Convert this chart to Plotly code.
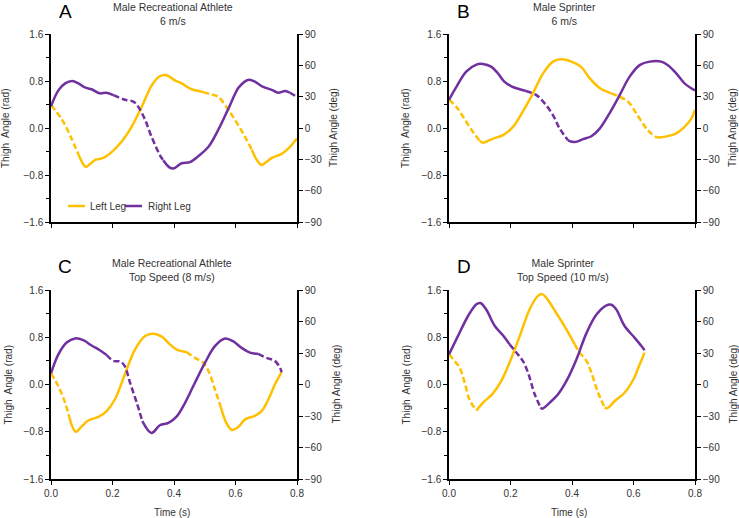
import plotly.graph_objects as go

# ---------------- data (time in s, thigh angle in rad) ----------------
A_left_t = [0.000, 0.035, 0.065, 0.090, 0.108, 0.115, 0.130, 0.145, 0.170, 0.197, 0.230, 0.262, 0.295, 0.327, 0.350, 0.365, 0.380, 0.403, 0.425, 0.457, 0.480, 0.495, 0.522, 0.544, 0.566, 0.598, 0.631, 0.653, 0.670, 0.685, 0.700, 0.718, 0.750, 0.777, 0.800]
A_left_v = [0.39, 0.15, -0.16, -0.46, -0.64, -0.66, -0.60, -0.54, -0.51, -0.41, -0.23, 0.02, 0.36, 0.72, 0.87, 0.90, 0.89, 0.81, 0.76, 0.66, 0.63, 0.61, 0.57, 0.53, 0.39, 0.14, -0.15, -0.37, -0.55, -0.63, -0.58, -0.51, -0.44, -0.32, -0.18]
A_left_dash = [(0.0, 0.090), (0.495, 0.653)]

A_right_t = [0.000, 0.024, 0.046, 0.069, 0.089, 0.110, 0.132, 0.159, 0.180, 0.203, 0.240, 0.268, 0.284, 0.306, 0.327, 0.354, 0.365, 0.385, 0.398, 0.425, 0.452, 0.479, 0.512, 0.544, 0.577, 0.609, 0.630, 0.644, 0.663, 0.690, 0.718, 0.739, 0.761, 0.777, 0.800]
A_right_v = [0.37, 0.64, 0.76, 0.80, 0.76, 0.69, 0.66, 0.59, 0.60, 0.56, 0.48, 0.45, 0.36, 0.14, -0.15, -0.46, -0.55, -0.67, -0.69, -0.60, -0.58, -0.48, -0.32, -0.03, 0.33, 0.68, 0.79, 0.82, 0.79, 0.70, 0.65, 0.60, 0.63, 0.60, 0.53]
A_right_dash = [(0.203, 0.365), (0.777, 0.800)]

B_left_t = [0.000, 0.024, 0.046, 0.073, 0.100, 0.110, 0.143, 0.176, 0.208, 0.240, 0.273, 0.306, 0.338, 0.365, 0.398, 0.430, 0.457, 0.490, 0.528, 0.555, 0.582, 0.609, 0.642, 0.669, 0.685, 0.718, 0.739, 0.766, 0.788, 0.800]
B_left_v = [0.48, 0.36, 0.19, -0.03, -0.22, -0.25, -0.18, -0.12, 0.02, 0.28, 0.59, 0.93, 1.13, 1.17, 1.13, 1.04, 0.85, 0.68, 0.59, 0.53, 0.45, 0.25, -0.01, -0.15, -0.16, -0.13, -0.09, 0.02, 0.16, 0.31]
B_left_dash = [(0.0, 0.100), (0.528, 0.669)]

B_right_t = [0.000, 0.024, 0.056, 0.089, 0.110, 0.138, 0.159, 0.180, 0.203, 0.230, 0.250, 0.284, 0.311, 0.338, 0.360, 0.387, 0.409, 0.436, 0.463, 0.490, 0.522, 0.555, 0.587, 0.620, 0.653, 0.690, 0.712, 0.739, 0.766, 0.800]
B_right_v = [0.48, 0.70, 0.96, 1.08, 1.09, 1.04, 0.93, 0.79, 0.71, 0.66, 0.63, 0.56, 0.42, 0.22, -0.01, -0.21, -0.24, -0.19, -0.14, -0.01, 0.25, 0.56, 0.87, 1.07, 1.13, 1.13, 1.07, 0.93, 0.76, 0.64]
B_right_dash = [(0.250, 0.387)]

C_left_t = [0.000, 0.024, 0.046, 0.060, 0.080, 0.100, 0.121, 0.154, 0.181, 0.208, 0.240, 0.273, 0.306, 0.333, 0.360, 0.387, 0.409, 0.441, 0.468, 0.495, 0.512, 0.533, 0.552, 0.570, 0.588, 0.609, 0.631, 0.663, 0.685, 0.707, 0.728, 0.750]
C_left_v = [0.19, -0.03, -0.31, -0.56, -0.80, -0.71, -0.61, -0.55, -0.45, -0.25, 0.17, 0.59, 0.82, 0.86, 0.81, 0.68, 0.59, 0.55, 0.45, 0.37, 0.23, -0.08, -0.38, -0.65, -0.77, -0.72, -0.59, -0.53, -0.45, -0.25, 0.00, 0.21]
C_left_dash = [(0.0, 0.060), (0.441, 0.552)]

C_right_t = [0.000, 0.024, 0.051, 0.078, 0.105, 0.132, 0.159, 0.181, 0.203, 0.225, 0.240, 0.257, 0.279, 0.297, 0.327, 0.354, 0.382, 0.409, 0.436, 0.468, 0.501, 0.533, 0.566, 0.593, 0.620, 0.647, 0.674, 0.701, 0.728, 0.745, 0.750]
C_right_v = [0.19, 0.51, 0.71, 0.78, 0.75, 0.66, 0.58, 0.50, 0.40, 0.39, 0.31, 0.03, -0.31, -0.62, -0.82, -0.69, -0.65, -0.54, -0.31, 0.03, 0.37, 0.65, 0.78, 0.73, 0.62, 0.54, 0.52, 0.45, 0.40, 0.28, 0.21]
C_right_dash = [(0.181, 0.297), (0.674, 0.750)]

D_left_t = [0.000, 0.018, 0.035, 0.051, 0.067, 0.089, 0.110, 0.143, 0.170, 0.197, 0.230, 0.262, 0.289, 0.303, 0.316, 0.349, 0.382, 0.409, 0.425, 0.447, 0.463, 0.485, 0.506, 0.515, 0.539, 0.571, 0.599, 0.620, 0.636]
D_left_v = [0.51, 0.40, 0.28, 0.03, -0.26, -0.44, -0.31, -0.15, 0.06, 0.37, 0.82, 1.27, 1.50, 1.53, 1.47, 1.21, 0.93, 0.68, 0.54, 0.40, 0.20, -0.14, -0.39, -0.40, -0.28, -0.14, 0.08, 0.34, 0.54]
D_left_dash = [(0.0, 0.089), (0.409, 0.506)]

D_right_t = [0.000, 0.029, 0.062, 0.089, 0.102, 0.121, 0.149, 0.176, 0.197, 0.224, 0.240, 0.257, 0.279, 0.298, 0.303, 0.327, 0.354, 0.382, 0.414, 0.447, 0.479, 0.512, 0.528, 0.544, 0.571, 0.604, 0.626, 0.636]
D_right_v = [0.51, 0.82, 1.16, 1.36, 1.38, 1.27, 0.99, 0.83, 0.68, 0.51, 0.40, 0.20, -0.17, -0.39, -0.41, -0.31, -0.17, 0.06, 0.42, 0.87, 1.18, 1.34, 1.35, 1.27, 0.99, 0.79, 0.65, 0.58]
D_right_dash = [(0.197, 0.298), (0.626, 0.636)]

panel_letters = ["A", "B", "C", "D"]
panel_titles = ["Male Recreational Athlete<br>6 m/s", "Male Sprinter<br>6 m/s",
                "Male Recreational Athlete<br>Top Speed (8 m/s)", "Male Sprinter<br>Top Speed (10 m/s)"]
series_names = ["Left Leg", "Right Leg"]
rad_ticks = [-1.6, -0.8, 0.0, 0.8, 1.6]
deg_ticks = [-90, -60, -30, 0, 30, 60, 90]
time_ticks = [0.0, 0.2, 0.4, 0.6, 0.8]

panels = [
    (A_left_t, A_left_v, A_left_dash, A_right_t, A_right_v, A_right_dash),
    (B_left_t, B_left_v, B_left_dash, B_right_t, B_right_v, B_right_dash),
    (C_left_t, C_left_v, C_left_dash, C_right_t, C_right_v, C_right_dash),
    (D_left_t, D_left_v, D_left_dash, D_right_t, D_right_v, D_right_dash),
]

# ---------------- styling ----------------
W, H = 739, 518
GOLD = "#FFC000"
PURPLE = "#7030A0"
TXT = "#333333"
FONT = "Liberation Sans, Arial, sans-serif"
LW = 2.5
DASH = "6px,3px"


def px(x):
    return x / W


def py(y):
    return 1 - y / H


# plot-area pixel boxes (left, right, top, bottom)
boxes = [(51, 297, 34, 222), (449, 695, 34, 222), (51, 297, 290, 479), (449, 695, 290, 479)]


def runs(t, v, dashed):
    def is_d(m):
        return any(a <= m <= b for a, b in dashed)
    out = []
    for i in range(len(t) - 1):
        d = is_d((t[i] + t[i + 1]) / 2)
        if out and out[-1][0] == d:
            out[-1][1].append(i + 1)
        else:
            out.append([d, [i, i + 1]])
    return [(d, [t[j] for j in idx], [v[j] for j in idx]) for d, idx in out]


fig = go.Figure()
layout = {}
for k, (lt, lv, ld, rt, rv, rd) in enumerate(panels):
    n = k + 1
    xa = "x" if n == 1 else f"x{n}"
    ya = "y" if n == 1 else f"y{n}"
    ya2 = f"y{n + 4}"
    for t, v, dsh, col in ((lt, lv, ld, GOLD), (rt, rv, rd, PURPLE)):
        for d, xs, ys in runs(t, v, dsh):
            fig.add_trace(go.Scatter(x=xs, y=ys, mode="lines", xaxis=xa, yaxis=ya,
                                     line=dict(color=col, width=LW, shape="spline",
                                               dash=DASH if d else "solid"),
                                     showlegend=False, hoverinfo="skip"))
    # dummy trace for secondary (deg) axis
    fig.add_trace(go.Scatter(x=[None], y=[None], xaxis=xa, yaxis=ya2, showlegend=False,
                             hoverinfo="skip"))
    l, r, top, bot = boxes[k]
    common = dict(showline=True, linecolor="black", linewidth=1.5, showgrid=False,
                  zeroline=False, ticks="outside", ticklen=4, tickcolor="black",
                  automargin=False, fixedrange=True,
                  tickfont=dict(size=10, color=TXT, family=FONT))
    layout[f"xaxis{n}"] = dict(domain=[px(l), px(r)], range=[0, 0.8], tickvals=time_ticks,
                               tickformat=".1f", anchor=ya, showticklabels=(n > 2), **common)
    layout[f"yaxis{n}"] = dict(domain=[py(bot), py(top)], range=[-1.6, 1.6], tickvals=rad_ticks,
                               tickformat=".1f", anchor=xa,
                               minor=dict(dtick=0.4, ticks="outside", ticklen=3, tickcolor="black"),
                               **common)
    layout[f"yaxis{n + 4}"] = dict(overlaying=ya, side="right", anchor=xa, range=[-90, 90],
                                   tickvals=deg_ticks, **common)

ann = []
title_pos = [(173, 13.5), (564, 13.5), (172, 270), (563, 270)]
letter_pos = [(57, 12), (455, 12), (56, 266), (455, 266)]
ltitle_x = [6, 406, 8, 406]
rtitle_x = [334, 733, 336, 733]


def A(x, y, text, size=10, color=TXT, xanchor="center", angle=0):
    return dict(x=px(x), y=py(y), xref="paper", yref="paper", text=text, showarrow=False,
                xanchor=xanchor, yanchor="middle", textangle=angle,
                font=dict(size=size, color=color, family=FONT))


for k in range(4):
    l, r, top, bot = boxes[k]
    cy = (top + bot) / 2
    ann.append(A(title_pos[k][0], title_pos[k][1], panel_titles[k], size=10.5))
    ann.append(A(letter_pos[k][0], letter_pos[k][1], panel_letters[k], size=19,
                 color="black", xanchor="left"))
    ann.append(A(ltitle_x[k], cy, "Thigh\u00a0 Angle (rad)", angle=-90))
    ann.append(A(rtitle_x[k], cy, "Thigh Angle (deg)", angle=-90))
for xc in (172, 569):
    ann.append(A(xc, 512, "Time (s)"))

# legend (panel A)
shapes = []
leg_items = [(68, 85, 88, GOLD, series_names[0]), (125, 142, 146, PURPLE, series_names[1])]
for x0, x1, xt, col, name in leg_items:
    shapes.append(dict(type="line", xref="paper", yref="paper", x0=px(x0), x1=px(x1),
                       y0=py(206), y1=py(206), line=dict(color=col, width=LW)))
    ann.append(A(xt, 206, name, xanchor="left"))

fig.update_layout(width=W, height=H, autosize=False,
                  margin=dict(l=0, r=0, t=0, b=0, pad=0, autoexpand=False),
                  paper_bgcolor="white", plot_bgcolor="white", showlegend=False,
                  annotations=ann, shapes=shapes, font=dict(family=FONT, size=10, color=TXT),
                  **layout)
fig.write_html("out.html", config={"displayModeBar": False},
               post_script="document.body.style.margin='0';document.body.style.overflow='hidden';")
